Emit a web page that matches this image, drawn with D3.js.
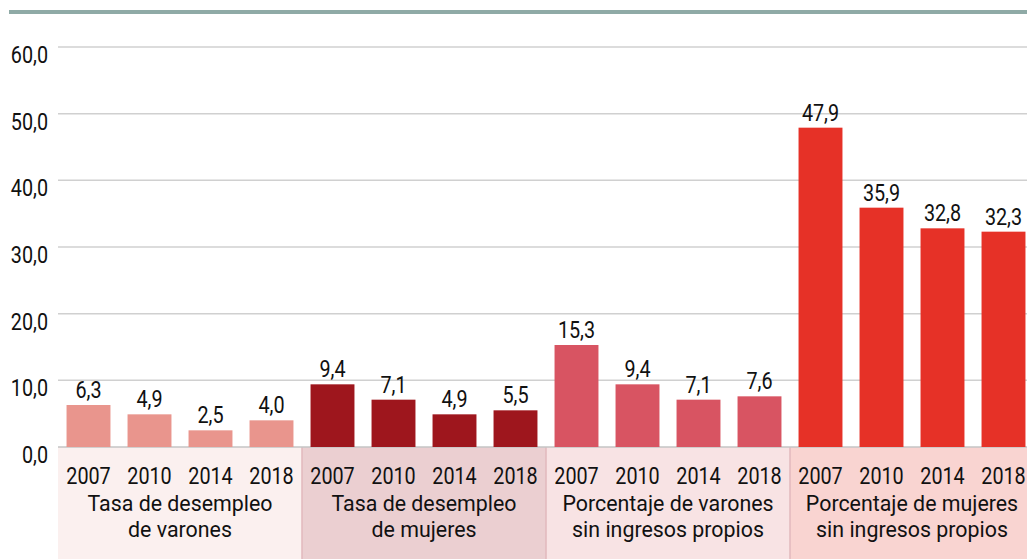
<!DOCTYPE html>
<html lang="es">
<head>
  <meta charset="utf-8">
  <title>Desempleo e ingresos propios</title>
  <script src="https://cdn.jsdelivr.net/npm/d3@7"></script>
  <style>
  body { margin: 0; background: #fff; }
  svg { font-family: Roboto, sans-serif; }
  </style>
</head>
<body>
  <script>
  // data
  var years = ["2007", "2010", "2014", "2018"];
  var groups = [
    ["Tasa de desempleo", "de varones"],
    ["Tasa de desempleo", "de mujeres"],
    ["Porcentaje de varones", "sin ingresos propios"],
    ["Porcentaje de mujeres", "sin ingresos propios"]
  ];
  var values = [
    [6.3, 4.9, 2.5, 4.0],
    [9.4, 7.1, 4.9, 5.5],
    [15.3, 9.4, 7.1, 7.6],
    [47.9, 35.9, 32.8, 32.3]
  ];
  var barColors = ["#e9958d", "#9e161d", "#d85462", "#e63127"];
  var bgColors = ["#fbf0ef", "#ebcfd1", "#f8e3e4", "#f9d4d1"];
  var yTicks = [0, 10, 20, 30, 40, 50, 60];

  var width = 1027, height = 559;
  var left = 58, base = 447, plotTop = 47;
  var fs = 23;

  var svg = d3.select("body").append("svg")
    .attr("width", width)
    .attr("height", height);

  // flat list of bars
  var bars = [];
  values.forEach(function(g, gi) {
    g.forEach(function(v, yi) {
      bars.push({g: gi, year: years[yi], v: v, key: gi + "-" + years[yi]});
    });
  });

  var x = d3.scaleBand()
    .domain(bars.map(function(d) { return d.key; }))
    .range([left, left + 61 * bars.length])
    .paddingInner(0.28)
    .paddingOuter(0.14);

  var y = d3.scaleLinear().domain([0, 60]).range([base, plotTop]);

  // squeeze text horizontally to mimic a condensed face
  function txt(sel, tx, ty, sx) {
    sel.attr("transform", "translate(" + tx + "," + ty + ") scale(" + (sx || 0.86) + ",1)");
  }
  var fmt = function(v) { return d3.format(".1f")(v).replace(".", ","); };

  // top rule
  svg.append("rect")
    .attr("x", 9).attr("y", 10)
    .attr("width", width - 9).attr("height", 4)
    .attr("fill", "#8faaa6");

  // category backgrounds
  var step = x.step();
  groups.forEach(function(g, gi) {
    var gx0 = left + gi * 4 * step;
    svg.append("rect")
      .attr("x", gx0).attr("y", base)
      .attr("width", 4 * step).attr("height", height - base)
      .attr("fill", bgColors[gi]);
    if (gi > 0) {
      svg.append("line")
        .attr("x1", gx0).attr("x2", gx0)
        .attr("y1", base).attr("y2", height)
        .attr("stroke", "#e2b9bc").attr("stroke-width", 1.5);
    }
    var cx = gx0 + 2 * step;
    g.forEach(function(line, li) {
      svg.append("text")
        .call(txt, cx, 511 + li * 26, 0.93)
        .attr("text-anchor", "middle")
        .attr("font-size", fs)
        .attr("fill", "#111")
        .text(line);
    });
  });

  // grid
  svg.selectAll("line.grid")
    .data(yTicks)
    .enter().append("line")
    .attr("class", "grid")
    .attr("x1", left).attr("x2", width)
    .attr("y1", function(d) { return y(d); })
    .attr("y2", function(d) { return y(d); })
    .attr("stroke", function(d) { return d === 0 ? "#c4c4c4" : "#d0d0d0"; })
    .attr("stroke-width", 1.5);

  svg.selectAll("text.ytick")
    .data(yTicks)
    .enter().append("text")
    .attr("class", "ytick")
    .each(function(d) { txt(d3.select(this), 48, y(d) + 16); })
    .attr("text-anchor", "end")
    .attr("font-size", fs)
    .attr("fill", "#111")
    .text(fmt);

  // bars
  svg.selectAll("rect.bar")
    .data(bars)
    .enter().append("rect")
    .attr("class", "bar")
    .attr("x", function(d) { return x(d.key); })
    .attr("y", function(d) { return y(d.v); })
    .attr("width", x.bandwidth())
    .attr("height", function(d) { return base - y(d.v); })
    .attr("fill", function(d) { return barColors[d.g]; });

  svg.selectAll("text.val")
    .data(bars)
    .enter().append("text")
    .attr("class", "val")
    .each(function(d) { txt(d3.select(this), x(d.key) + x.bandwidth() / 2, y(d.v) - 7); })
    .attr("text-anchor", "middle")
    .attr("font-size", fs)
    .attr("fill", "#111")
    .text(function(d) { return fmt(d.v); });

  svg.selectAll("text.year")
    .data(bars)
    .enter().append("text")
    .attr("class", "year")
    .each(function(d) { txt(d3.select(this), x(d.key) + x.bandwidth() / 2, 484); })
    .attr("text-anchor", "middle")
    .attr("font-size", fs)
    .attr("fill", "#111")
    .text(function(d) { return d.year; });
  </script>
</body>
</html>
